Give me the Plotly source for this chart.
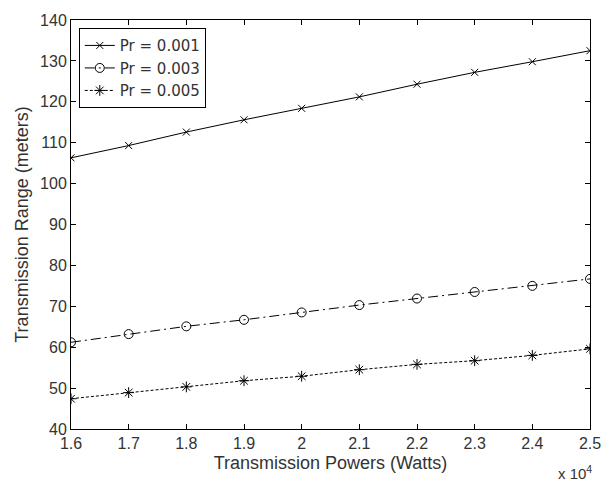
import plotly.graph_objects as go

x_power = [1.6, 1.7, 1.8, 1.9, 2.0, 2.1, 2.2, 2.3, 2.4, 2.5]
pr_001 = [106.3, 109.3, 112.6, 115.6, 118.4, 121.2, 124.3, 127.2, 129.8, 132.5]
pr_003 = [61.2, 63.2, 65.1, 66.7, 68.5, 70.3, 71.9, 73.5, 75.0, 76.7]
pr_005 = [47.4, 48.9, 50.3, 51.8, 52.9, 54.5, 55.8, 56.7, 58.0, 59.6]
x_ticks = [1.6, 1.7, 1.8, 1.9, 2.0, 2.1, 2.2, 2.3, 2.4, 2.5]
x_ticklabels = ["1.6", "1.7", "1.8", "1.9", "2", "2.1", "2.2", "2.3", "2.4", "2.5"]
y_ticks = [40, 50, 60, 70, 80, 90, 100, 110, 120, 130, 140]

FONT = "Liberation Sans, Arial, sans-serif"
LEGFONT = "DejaVu Sans, Liberation Sans, sans-serif"
TXT = "#333333"
fig = go.Figure()
fig.add_trace(go.Scatter(x=x_power, y=pr_001, name="Pr = 0.001", mode="lines+markers",
                         line=dict(color="black", width=1, dash="solid"),
                         marker=dict(symbol="x-thin-open", size=7, color="black", line=dict(width=1, color="black"))))
fig.add_trace(go.Scatter(x=x_power, y=pr_003, name="Pr = 0.003", mode="lines+markers",
                         line=dict(color="black", width=1, dash="10px,4px,2px,4px"),
                         marker=dict(symbol="circle-open", size=9, color="black", line=dict(width=1, color="black"))))
fig.add_trace(go.Scatter(x=x_power, y=pr_005, name="Pr = 0.005", mode="lines+markers",
                         line=dict(color="black", width=1, dash="3px,2px"),
                         marker=dict(symbol="asterisk-open", size=9, color="black", line=dict(width=1, color="black"))))

axis_common = dict(showline=True, linecolor="black", linewidth=1, mirror="ticks",
                   ticks="inside", ticklen=5, tickcolor="black", showgrid=False, zeroline=False,
                   tickfont=dict(family=FONT, size=16, color=TXT))
fig.update_xaxes(range=[1.6, 2.5], tickvals=x_ticks, ticktext=x_ticklabels,
                 title=dict(text="Transmission Powers (Watts)", font=dict(family=FONT, size=18, color=TXT), standoff=5),
                 **axis_common)
fig.update_yaxes(range=[40, 140], tickvals=y_ticks,
                 title=dict(text="Transmission Range (meters)", font=dict(family=FONT, size=18, color=TXT), standoff=6),
                 **axis_common)
fig.add_annotation(x=1.0, y=0, xref="paper", yref="paper", xanchor="right", yanchor="top",
                   yshift=-32, xshift=4, showarrow=False,
                   text="x 10<sup>4</sup>", font=dict(family=FONT, size=15, color=TXT))
fig.update_layout(width=613, height=482, paper_bgcolor="white", plot_bgcolor="white",
                  margin=dict(l=71, r=15, t=17, b=53),
                  legend=dict(x=0.015, y=0.98, xanchor="left", yanchor="top", bgcolor="white",
                              bordercolor="black", borderwidth=1, tracegroupgap=0,
                              font=dict(family=LEGFONT, size=15, color=TXT)),
                  showlegend=True)
fig.write_html("out.html")
